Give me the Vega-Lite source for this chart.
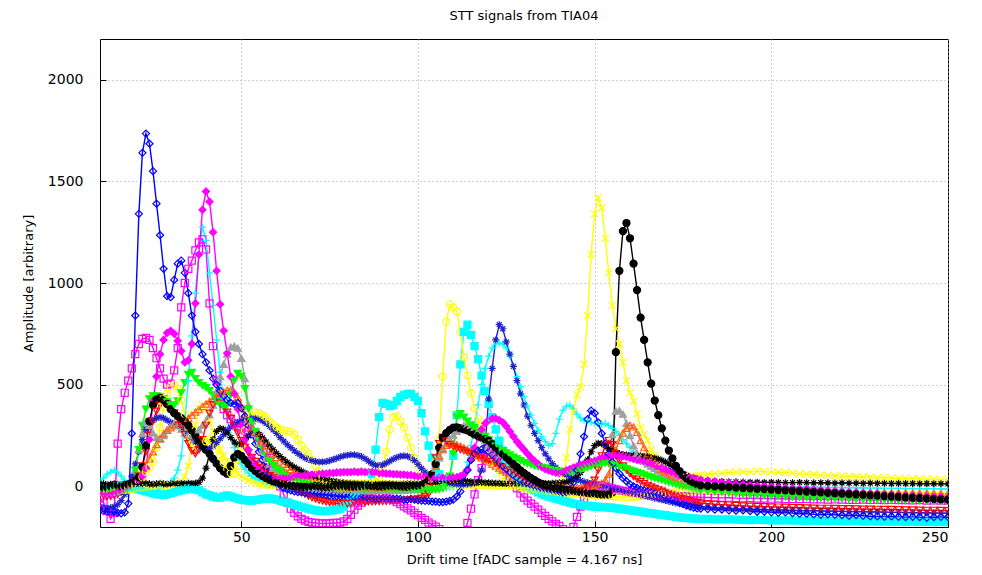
{
"$schema":"https://vega.github.io/schema/vega-lite/v6.json",
"width":848,"height":488,
"autosize":{"type":"none"},
"padding":{"left":100,"top":39,"right":34,"bottom":48},
"background":"white",
"title":{"text":"STT signals from TIA04","font":"DejaVu Sans","fontSize":13,"fontWeight":"normal","color":"#000","offset":16},
"data":{"values":[
{"x":10,"a":-118,"b":-30,"c":-60,"d":20,"e":0,"f":-20,"g":0,"h":-30,"i":-30,"j":-40,"k":-20,"l":-25,"m":-100,"n":10},
{"x":11,"a":-122,"b":-35,"c":-80,"d":40,"e":-5,"f":-25,"g":-5,"h":-28,"i":-32,"j":-45,"k":-22,"l":-28,"m":-105,"n":12},
{"x":12,"a":-125,"b":-40,"c":-120,"d":60,"e":-10,"f":-30,"g":-5,"h":-30,"i":-35,"j":-50,"k":-25,"l":-30,"m":-108,"n":8},
{"x":13,"a":-128,"b":-40,"c":-160,"d":70,"e":-10,"f":-30,"g":0,"h":-32,"i":-35,"j":-50,"k":-25,"l":-32,"m":-105,"n":10},
{"x":14,"a":-126,"b":-35,"c":-130,"d":80,"e":-5,"f":-25,"g":5,"h":-30,"i":-30,"j":-45,"k":-22,"l":-30,"m":-100,"n":12},
{"x":15,"a":-130,"b":-30,"c":210,"d":70,"e":0,"f":-20,"g":5,"h":-28,"i":-28,"j":-40,"k":-20,"l":-28,"m":-90,"n":10},
{"x":16,"a":-133,"b":-20,"c":380,"d":50,"e":5,"f":-15,"g":0,"h":-25,"i":-25,"j":-30,"k":-15,"l":-25,"m":-70,"n":8},
{"x":17,"a":-128,"b":-10,"c":460,"d":30,"e":5,"f":-10,"g":5,"h":-20,"i":-20,"j":-20,"k":-10,"l":-22,"m":-40,"n":10},
{"x":18,"a":-85,"b":0,"c":520,"d":10,"e":0,"f":-5,"g":10,"h":-10,"i":-15,"j":-10,"k":0,"l":-20,"m":0,"n":12},
{"x":19,"a":260,"b":10,"c":580,"d":0,"e":-5,"f":0,"g":15,"h":0,"i":0,"j":0,"k":10,"l":-18,"m":50,"n":10},
{"x":20,"a":840,"b":20,"c":650,"d":-10,"e":-10,"f":10,"g":25,"h":80,"i":80,"j":20,"k":25,"l":-15,"m":110,"n":8},
{"x":21,"a":1340,"b":30,"c":700,"d":-20,"e":-15,"f":25,"g":45,"h":180,"i":180,"j":50,"k":45,"l":-12,"m":170,"n":10},
{"x":22,"a":1640,"b":50,"c":725,"d":-25,"e":-20,"f":45,"g":95,"h":260,"i":300,"j":100,"k":70,"l":-10,"m":230,"n":12},
{"x":23,"a":1735,"b":90,"c":730,"d":-30,"e":-25,"f":70,"g":200,"h":320,"i":380,"j":170,"k":100,"l":-8,"m":280,"n":15},
{"x":24,"a":1685,"b":230,"c":720,"d":-30,"e":-30,"f":95,"g":320,"h":300,"i":430,"j":250,"k":135,"l":-5,"m":310,"n":12},
{"x":25,"a":1550,"b":420,"c":680,"d":-25,"e":-35,"f":120,"g":400,"h":262,"i":445,"j":320,"k":170,"l":-3,"m":325,"n":10},
{"x":26,"a":1390,"b":540,"c":630,"d":-20,"e":-40,"f":190,"g":428,"h":240,"i":445,"j":370,"k":205,"l":0,"m":335,"n":12},
{"x":27,"a":1235,"b":650,"c":580,"d":-10,"e":-40,"f":290,"g":435,"h":232,"i":440,"j":400,"k":235,"l":2,"m":340,"n":15},
{"x":28,"a":1070,"b":720,"c":530,"d":0,"e":-42,"f":390,"g":425,"h":250,"i":430,"j":415,"k":258,"l":4,"m":335,"n":12},
{"x":29,"a":935,"b":755,"c":500,"d":10,"e":-40,"f":455,"g":405,"h":278,"i":415,"j":405,"k":275,"l":5,"m":325,"n":10},
{"x":30,"a":930,"b":765,"c":505,"d":20,"e":-35,"f":490,"g":380,"h":298,"i":400,"j":385,"k":288,"l":6,"m":315,"n":12},
{"x":31,"a":1015,"b":750,"c":570,"d":40,"e":-30,"f":500,"g":360,"h":310,"i":400,"j":360,"k":298,"l":8,"m":310,"n":15},
{"x":32,"a":1095,"b":715,"c":680,"d":80,"e":-25,"f":480,"g":345,"h":300,"i":420,"j":335,"k":305,"l":12,"m":305,"n":12},
{"x":33,"a":1110,"b":665,"c":880,"d":150,"e":-20,"f":425,"g":335,"h":282,"i":460,"j":300,"k":312,"l":25,"m":295,"n":14},
{"x":34,"a":1050,"b":610,"c":1000,"d":320,"e":-15,"f":355,"g":320,"h":262,"i":510,"j":255,"k":322,"l":50,"m":280,"n":12},
{"x":35,"a":950,"b":620,"c":1070,"d":520,"e":-10,"f":290,"g":300,"h":252,"i":550,"j":210,"k":335,"l":100,"m":262,"n":15},
{"x":36,"a":840,"b":700,"c":1110,"d":740,"e":-10,"f":240,"g":275,"h":250,"i":560,"j":175,"k":350,"l":200,"m":240,"n":14},
{"x":37,"a":760,"b":900,"c":1160,"d":950,"e":-15,"f":205,"g":250,"h":258,"i":530,"j":160,"k":365,"l":300,"m":218,"n":15},
{"x":38,"a":700,"b":1140,"c":1200,"d":1150,"e":-20,"f":190,"g":225,"h":278,"i":510,"j":180,"k":378,"l":380,"m":198,"n":20},
{"x":39,"a":650,"b":1360,"c":1215,"d":1275,"e":-30,"f":200,"g":200,"h":300,"i":495,"j":230,"k":392,"l":400,"m":185,"n":40},
{"x":40,"a":610,"b":1450,"c":1165,"d":1210,"e":-40,"f":220,"g":180,"h":322,"i":485,"j":300,"k":405,"l":380,"m":180,"n":90},
{"x":41,"a":570,"b":1400,"c":900,"d":1050,"e":-45,"f":232,"g":160,"h":352,"i":470,"j":360,"k":418,"l":330,"m":185,"n":160},
{"x":42,"a":530,"b":1250,"c":690,"d":890,"e":-50,"f":222,"g":135,"h":400,"i":450,"j":400,"k":430,"l":270,"m":198,"n":230},
{"x":43,"a":500,"b":1060,"c":520,"d":720,"e":-55,"f":195,"g":112,"h":470,"i":420,"j":420,"k":442,"l":220,"m":215,"n":270},
{"x":44,"a":470,"b":895,"c":430,"d":560,"e":-55,"f":155,"g":90,"h":540,"i":400,"j":410,"k":455,"l":180,"m":235,"n":285},
{"x":45,"a":445,"b":765,"c":380,"d":430,"e":-50,"f":115,"g":72,"h":600,"i":390,"j":390,"k":465,"l":150,"m":255,"n":280},
{"x":46,"a":425,"b":655,"c":350,"d":330,"e":-45,"f":85,"g":62,"h":650,"i":400,"j":365,"k":472,"l":125,"m":275,"n":262},
{"x":47,"a":410,"b":540,"c":330,"d":250,"e":-50,"f":65,"g":100,"h":685,"i":450,"j":335,"k":475,"l":100,"m":292,"n":240},
{"x":48,"a":405,"b":455,"c":310,"d":190,"e":-55,"f":62,"g":142,"h":690,"i":520,"j":300,"k":462,"l":80,"m":305,"n":218},
{"x":49,"a":410,"b":380,"c":295,"d":145,"e":-60,"f":100,"g":160,"h":680,"i":555,"j":262,"k":435,"l":62,"m":315,"n":205},
{"x":50,"a":385,"b":300,"c":285,"d":110,"e":-65,"f":195,"g":150,"h":630,"i":540,"j":225,"k":395,"l":48,"m":322,"n":210},
{"x":51,"a":345,"b":230,"c":275,"d":85,"e":-68,"f":275,"g":130,"h":530,"i":480,"j":192,"k":355,"l":38,"m":328,"n":228},
{"x":52,"a":300,"b":180,"c":270,"d":65,"e":-70,"f":325,"g":110,"h":400,"i":380,"j":165,"k":320,"l":30,"m":332,"n":248},
{"x":53,"a":255,"b":140,"c":265,"d":50,"e":-70,"f":350,"g":90,"h":322,"i":320,"j":142,"k":290,"l":22,"m":335,"n":262},
{"x":54,"a":210,"b":110,"c":260,"d":40,"e":-68,"f":362,"g":75,"h":262,"i":270,"j":122,"k":265,"l":16,"m":335,"n":265},
{"x":55,"a":170,"b":85,"c":245,"d":30,"e":-65,"f":360,"g":62,"h":212,"i":225,"j":105,"k":245,"l":12,"m":330,"n":255},
{"x":56,"a":130,"b":65,"c":215,"d":22,"e":-62,"f":350,"g":50,"h":172,"i":185,"j":90,"k":222,"l":8,"m":322,"n":238},
{"x":57,"a":95,"b":50,"c":180,"d":15,"e":-60,"f":338,"g":40,"h":138,"i":150,"j":76,"k":200,"l":6,"m":310,"n":218},
{"x":58,"a":65,"b":40,"c":140,"d":10,"e":-60,"f":320,"g":32,"h":110,"i":125,"j":63,"k":180,"l":5,"m":295,"n":198},
{"x":59,"a":40,"b":35,"c":95,"d":5,"e":-62,"f":302,"g":25,"h":88,"i":105,"j":52,"k":160,"l":4,"m":278,"n":180},
{"x":60,"a":20,"b":35,"c":45,"d":0,"e":-65,"f":290,"g":20,"h":70,"i":88,"j":42,"k":142,"l":5,"m":260,"n":162},
{"x":61,"a":5,"b":38,"c":0,"d":-2,"e":-70,"f":280,"g":15,"h":56,"i":74,"j":32,"k":125,"l":6,"m":240,"n":146},
{"x":62,"a":-8,"b":40,"c":-40,"d":-5,"e":-75,"f":274,"g":10,"h":45,"i":62,"j":22,"k":110,"l":7,"m":222,"n":132},
{"x":63,"a":-15,"b":42,"c":-80,"d":-6,"e":-80,"f":270,"g":8,"h":35,"i":52,"j":12,"k":95,"l":8,"m":205,"n":118},
{"x":64,"a":-20,"b":45,"c":-110,"d":-8,"e":-85,"f":268,"g":5,"h":27,"i":44,"j":2,"k":82,"l":8,"m":190,"n":105},
{"x":65,"a":-25,"b":48,"c":-130,"d":-8,"e":-90,"f":255,"g":2,"h":20,"i":37,"j":-8,"k":70,"l":9,"m":175,"n":94},
{"x":66,"a":-28,"b":50,"c":-148,"d":-10,"e":-95,"f":230,"g":0,"h":14,"i":30,"j":-18,"k":60,"l":10,"m":162,"n":84},
{"x":67,"a":-30,"b":52,"c":-160,"d":-10,"e":-100,"f":200,"g":-2,"h":8,"i":24,"j":-28,"k":50,"l":10,"m":150,"n":75},
{"x":68,"a":-32,"b":55,"c":-168,"d":-12,"e":-105,"f":178,"g":-3,"h":3,"i":18,"j":-38,"k":42,"l":11,"m":140,"n":66},
{"x":69,"a":-35,"b":55,"c":-175,"d":-12,"e":-110,"f":158,"g":-2,"h":-2,"i":13,"j":-48,"k":35,"l":12,"m":132,"n":58},
{"x":70,"a":-35,"b":58,"c":-178,"d":-12,"e":-115,"f":130,"g":0,"h":-6,"i":8,"j":-56,"k":28,"l":12,"m":126,"n":52},
{"x":71,"a":-38,"b":60,"c":-180,"d":-14,"e":-118,"f":100,"g":2,"h":-10,"i":4,"j":-62,"k":22,"l":12,"m":122,"n":46},
{"x":72,"a":-40,"b":60,"c":-182,"d":-14,"e":-120,"f":72,"g":0,"h":-12,"i":0,"j":-68,"k":17,"l":13,"m":120,"n":40},
{"x":73,"a":-40,"b":62,"c":-182,"d":-15,"e":-122,"f":45,"g":-2,"h":-14,"i":-3,"j":-72,"k":12,"l":13,"m":120,"n":36},
{"x":74,"a":-42,"b":62,"c":-182,"d":-15,"e":-122,"f":25,"g":-3,"h":-15,"i":-6,"j":-76,"k":8,"l":14,"m":122,"n":32},
{"x":75,"a":-45,"b":65,"c":-182,"d":-15,"e":-120,"f":12,"g":-2,"h":-16,"i":-8,"j":-80,"k":5,"l":14,"m":126,"n":28},
{"x":76,"a":-45,"b":65,"c":-180,"d":-16,"e":-118,"f":5,"g":0,"h":-17,"i":-10,"j":-82,"k":2,"l":15,"m":132,"n":25},
{"x":77,"a":-48,"b":68,"c":-180,"d":-16,"e":-115,"f":0,"g":2,"h":-18,"i":-11,"j":-84,"k":0,"l":15,"m":138,"n":22},
{"x":78,"a":-50,"b":68,"c":-178,"d":-15,"e":-110,"f":-5,"g":3,"h":-18,"i":-12,"j":-85,"k":-2,"l":15,"m":145,"n":20},
{"x":79,"a":-50,"b":70,"c":-172,"d":-16,"e":-100,"f":-8,"g":2,"h":-19,"i":-13,"j":-86,"k":-3,"l":16,"m":150,"n":18},
{"x":80,"a":-52,"b":70,"c":-160,"d":-15,"e":-85,"f":-10,"g":0,"h":-20,"i":-14,"j":-85,"k":-4,"l":16,"m":153,"n":16},
{"x":81,"a":-50,"b":70,"c":-140,"d":-15,"e":-70,"f":-10,"g":-2,"h":-20,"i":-15,"j":-84,"k":-5,"l":16,"m":155,"n":15},
{"x":82,"a":-52,"b":72,"c":-115,"d":-16,"e":-55,"f":-10,"g":-3,"h":-20,"i":-15,"j":-82,"k":-5,"l":16,"m":155,"n":14},
{"x":83,"a":-55,"b":70,"c":-95,"d":-16,"e":-40,"f":-8,"g":-2,"h":-21,"i":-16,"j":-80,"k":-6,"l":16,"m":152,"n":13},
{"x":84,"a":-55,"b":72,"c":-80,"d":-15,"e":-25,"f":-5,"g":0,"h":-21,"i":-16,"j":-78,"k":-6,"l":16,"m":146,"n":12},
{"x":85,"a":-55,"b":70,"c":-68,"d":-14,"e":-10,"f":-5,"g":2,"h":-22,"i":-17,"j":-78,"k":-6,"l":15,"m":136,"n":12},
{"x":86,"a":-58,"b":68,"c":-60,"d":-14,"e":0,"f":0,"g":3,"h":-22,"i":-17,"j":-76,"k":-6,"l":15,"m":124,"n":11},
{"x":87,"a":-58,"b":70,"c":-55,"d":-15,"e":60,"f":5,"g":2,"h":-22,"i":-18,"j":-76,"k":-6,"l":15,"m":112,"n":10},
{"x":88,"a":-60,"b":68,"c":-52,"d":-15,"e":180,"f":20,"g":0,"h":-21,"i":-18,"j":-75,"k":-5,"l":14,"m":104,"n":10},
{"x":89,"a":-60,"b":65,"c":-50,"d":-14,"e":340,"f":45,"g":-2,"h":-21,"i":-18,"j":-75,"k":-5,"l":14,"m":102,"n":11},
{"x":90,"a":-58,"b":65,"c":-52,"d":-14,"e":410,"f":90,"g":-2,"h":-20,"i":-19,"j":-74,"k":-5,"l":14,"m":106,"n":12},
{"x":91,"a":-60,"b":62,"c":-55,"d":-15,"e":405,"f":170,"g":0,"h":-20,"i":-19,"j":-74,"k":-4,"l":13,"m":114,"n":13},
{"x":92,"a":-62,"b":62,"c":-60,"d":-15,"e":395,"f":280,"g":2,"h":-20,"i":-19,"j":-72,"k":-4,"l":13,"m":124,"n":12},
{"x":93,"a":-62,"b":60,"c":-68,"d":-14,"e":400,"f":340,"g":3,"h":-19,"i":-20,"j":-72,"k":-4,"l":12,"m":134,"n":11},
{"x":94,"a":-60,"b":60,"c":-78,"d":-14,"e":420,"f":345,"g":2,"h":-19,"i":-20,"j":-72,"k":-3,"l":12,"m":142,"n":10},
{"x":95,"a":-62,"b":58,"c":-88,"d":-13,"e":440,"f":320,"g":0,"h":-18,"i":-20,"j":-70,"k":-3,"l":12,"m":148,"n":10},
{"x":96,"a":-65,"b":58,"c":-98,"d":-13,"e":450,"f":290,"g":-2,"h":-18,"i":-20,"j":-70,"k":-2,"l":11,"m":150,"n":11},
{"x":97,"a":-65,"b":55,"c":-108,"d":-12,"e":455,"f":240,"g":-2,"h":-17,"i":-20,"j":-68,"k":-2,"l":11,"m":148,"n":12},
{"x":98,"a":-62,"b":55,"c":-118,"d":-12,"e":455,"f":190,"g":0,"h":-16,"i":-20,"j":-66,"k":-1,"l":10,"m":140,"n":13},
{"x":99,"a":-65,"b":52,"c":-130,"d":-12,"e":440,"f":140,"g":2,"h":-15,"i":-20,"j":-64,"k":0,"l":10,"m":126,"n":12},
{"x":100,"a":-68,"b":50,"c":-142,"d":-12,"e":420,"f":100,"g":3,"h":-13,"i":-20,"j":-62,"k":0,"l":10,"m":108,"n":11},
{"x":101,"a":-70,"b":50,"c":-155,"d":-11,"e":360,"f":72,"g":5,"h":-10,"i":-20,"j":-58,"k":0,"l":9,"m":88,"n":12},
{"x":102,"a":-72,"b":48,"c":-165,"d":-11,"e":270,"f":52,"g":15,"h":0,"i":-19,"j":-50,"k":10,"l":9,"m":70,"n":14},
{"x":103,"a":-72,"b":48,"c":-178,"d":-10,"e":200,"f":42,"g":30,"h":15,"i":-19,"j":-38,"k":25,"l":9,"m":55,"n":16},
{"x":104,"a":-75,"b":45,"c":-188,"d":-10,"e":140,"f":60,"g":60,"h":35,"i":-18,"j":20,"k":55,"l":8,"m":44,"n":18},
{"x":105,"a":-75,"b":45,"c":-198,"d":-10,"e":95,"f":120,"g":110,"h":90,"i":-17,"j":140,"k":100,"l":8,"m":36,"n":20},
{"x":106,"a":-78,"b":42,"c":-210,"d":-10,"e":60,"f":230,"g":190,"h":140,"i":-15,"j":210,"k":150,"l":8,"m":30,"n":22},
{"x":107,"a":-78,"b":42,"c":-225,"d":-9,"e":35,"f":540,"g":240,"h":180,"i":-10,"j":240,"k":185,"l":7,"m":25,"n":24},
{"x":108,"a":-75,"b":40,"c":-240,"d":-8,"e":20,"f":810,"g":262,"h":210,"i":0,"j":222,"k":202,"l":7,"m":20,"n":25},
{"x":109,"a":-72,"b":40,"c":-250,"d":-6,"e":40,"f":895,"g":278,"h":232,"i":50,"j":205,"k":210,"l":7,"m":16,"n":26},
{"x":110,"a":-65,"b":42,"c":-255,"d":-4,"e":150,"f":880,"g":289,"h":252,"i":160,"j":195,"k":210,"l":6,"m":12,"n":27},
{"x":111,"a":-50,"b":45,"c":-255,"d":0,"e":350,"f":860,"g":290,"h":270,"i":340,"j":188,"k":205,"l":6,"m":10,"n":27},
{"x":112,"a":-25,"b":50,"c":-250,"d":20,"e":600,"f":760,"g":285,"h":288,"i":358,"j":180,"k":198,"l":6,"m":8,"n":26},
{"x":113,"a":20,"b":60,"c":-230,"d":60,"e":760,"f":635,"g":280,"h":300,"i":340,"j":175,"k":190,"l":5,"m":8,"n":25},
{"x":114,"a":80,"b":80,"c":-180,"d":120,"e":795,"f":545,"g":275,"h":305,"i":320,"j":168,"k":180,"l":5,"m":10,"n":24},
{"x":115,"a":130,"b":130,"c":-110,"d":200,"e":745,"f":458,"g":265,"h":300,"i":302,"j":162,"k":170,"l":5,"m":12,"n":22},
{"x":116,"a":160,"b":190,"c":-40,"d":300,"e":690,"f":384,"g":255,"h":290,"i":290,"j":156,"k":160,"l":4,"m":15,"n":21},
{"x":117,"a":175,"b":240,"c":30,"d":400,"e":625,"f":332,"g":248,"h":272,"i":278,"j":150,"k":150,"l":4,"m":22,"n":20},
{"x":118,"a":180,"b":280,"c":90,"d":500,"e":545,"f":280,"g":240,"h":250,"i":262,"j":144,"k":140,"l":4,"m":80,"n":19},
{"x":119,"a":178,"b":310,"c":140,"d":580,"e":470,"f":232,"g":232,"h":225,"i":245,"j":137,"k":130,"l":3,"m":200,"n":18},
{"x":120,"a":170,"b":325,"c":170,"d":640,"e":405,"f":185,"g":225,"h":200,"i":228,"j":130,"k":120,"l":3,"m":430,"n":17},
{"x":121,"a":155,"b":333,"c":180,"d":680,"e":340,"f":145,"g":208,"h":180,"i":212,"j":122,"k":110,"l":3,"m":580,"n":16},
{"x":122,"a":140,"b":333,"c":170,"d":700,"e":280,"f":110,"g":191,"h":160,"i":198,"j":114,"k":100,"l":2,"m":720,"n":15},
{"x":123,"a":120,"b":325,"c":150,"d":705,"e":225,"f":80,"g":175,"h":140,"i":186,"j":106,"k":90,"l":2,"m":795,"n":15},
{"x":124,"a":100,"b":315,"c":120,"d":700,"e":175,"f":55,"g":160,"h":122,"i":175,"j":98,"k":80,"l":2,"m":775,"n":14},
{"x":125,"a":85,"b":295,"c":85,"d":680,"e":135,"f":35,"g":143,"h":108,"i":164,"j":90,"k":70,"l":2,"m":710,"n":14},
{"x":126,"a":70,"b":270,"c":50,"d":640,"e":100,"f":20,"g":127,"h":95,"i":154,"j":80,"k":62,"l":1,"m":650,"n":13},
{"x":127,"a":55,"b":245,"c":20,"d":590,"e":70,"f":8,"g":110,"h":82,"i":144,"j":70,"k":54,"l":1,"m":590,"n":13},
{"x":128,"a":42,"b":220,"c":-10,"d":540,"e":45,"f":0,"g":94,"h":70,"i":135,"j":60,"k":46,"l":1,"m":520,"n":12},
{"x":129,"a":30,"b":200,"c":-35,"d":490,"e":25,"f":-5,"g":78,"h":58,"i":126,"j":50,"k":38,"l":0,"m":455,"n":12},
{"x":130,"a":20,"b":180,"c":-55,"d":440,"e":10,"f":-10,"g":65,"h":48,"i":118,"j":40,"k":30,"l":0,"m":400,"n":12},
{"x":131,"a":12,"b":160,"c":-70,"d":395,"e":0,"f":-12,"g":52,"h":38,"i":112,"j":32,"k":24,"l":0,"m":345,"n":12},
{"x":132,"a":5,"b":140,"c":-85,"d":350,"e":-10,"f":-15,"g":40,"h":30,"i":106,"j":24,"k":18,"l":0,"m":300,"n":12},
{"x":133,"a":0,"b":125,"c":-100,"d":310,"e":-20,"f":-15,"g":30,"h":22,"i":100,"j":16,"k":12,"l":-1,"m":260,"n":12},
{"x":134,"a":-5,"b":110,"c":-115,"d":275,"e":-30,"f":-18,"g":20,"h":15,"i":96,"j":8,"k":8,"l":-1,"m":225,"n":13},
{"x":135,"a":-10,"b":95,"c":-130,"d":245,"e":-38,"f":-20,"g":12,"h":8,"i":93,"j":0,"k":4,"l":-1,"m":190,"n":13},
{"x":136,"a":-12,"b":85,"c":-145,"d":220,"e":-45,"f":-20,"g":5,"h":2,"i":90,"j":-6,"k":0,"l":-1,"m":160,"n":14},
{"x":137,"a":-15,"b":78,"c":-160,"d":200,"e":-50,"f":-22,"g":0,"h":-3,"i":86,"j":-12,"k":-2,"l":-2,"m":135,"n":14},
{"x":138,"a":-18,"b":72,"c":-172,"d":210,"e":-55,"f":-25,"g":-5,"h":-8,"i":82,"j":-16,"k":-3,"l":-2,"m":112,"n":15},
{"x":139,"a":-20,"b":68,"c":-185,"d":260,"e":-60,"f":-25,"g":-10,"h":-12,"i":78,"j":-20,"k":-4,"l":-2,"m":93,"n":16},
{"x":140,"a":-25,"b":65,"c":-195,"d":330,"e":-65,"f":-28,"g":-12,"h":-15,"i":74,"j":-22,"k":-5,"l":5,"m":78,"n":17},
{"x":141,"a":-30,"b":70,"c":-210,"d":375,"e":-70,"f":-30,"g":-15,"h":-17,"i":72,"j":-24,"k":-5,"l":40,"m":66,"n":18},
{"x":142,"a":-28,"b":78,"c":-225,"d":395,"e":-75,"f":-30,"g":-18,"h":-18,"i":70,"j":-26,"k":-6,"l":140,"m":56,"n":20},
{"x":143,"a":-15,"b":85,"c":-230,"d":398,"e":-80,"f":-32,"g":-20,"h":-19,"i":70,"j":-28,"k":-6,"l":280,"m":48,"n":25},
{"x":144,"a":20,"b":92,"c":-200,"d":380,"e":-85,"f":-35,"g":-22,"h":-20,"i":72,"j":-28,"k":-6,"l":370,"m":40,"n":32},
{"x":145,"a":80,"b":98,"c":-150,"d":355,"e":-88,"f":-35,"g":-25,"h":-20,"i":75,"j":-28,"k":-5,"l":450,"m":34,"n":45},
{"x":146,"a":160,"b":105,"c":-100,"d":335,"e":-90,"f":-38,"g":-28,"h":-21,"i":80,"j":-26,"k":-5,"l":490,"m":28,"n":68},
{"x":147,"a":245,"b":110,"c":-60,"d":325,"e":-92,"f":-40,"g":-30,"h":-21,"i":86,"j":-20,"k":-4,"l":600,"m":22,"n":95},
{"x":148,"a":330,"b":115,"c":-30,"d":320,"e":-95,"f":-40,"g":-32,"h":-22,"i":92,"j":-10,"k":-2,"l":840,"m":18,"n":130},
{"x":149,"a":372,"b":120,"c":-10,"d":315,"e":-98,"f":-42,"g":-35,"h":-22,"i":98,"j":5,"k":0,"l":1140,"m":14,"n":170},
{"x":150,"a":360,"b":125,"c":0,"d":310,"e":-100,"f":-42,"g":-35,"h":-22,"i":104,"j":30,"k":2,"l":1340,"m":10,"n":200},
{"x":151,"a":315,"b":130,"c":5,"d":305,"e":-100,"f":-45,"g":-38,"h":-22,"i":108,"j":80,"k":5,"l":1420,"m":6,"n":212},
{"x":152,"a":260,"b":138,"c":5,"d":305,"e":-102,"f":-45,"g":-40,"h":-22,"i":112,"j":150,"k":15,"l":1370,"m":2,"n":210},
{"x":153,"a":210,"b":142,"c":0,"d":310,"e":-102,"f":-45,"g":-40,"h":-21,"i":113,"j":200,"k":30,"l":1220,"m":-2,"n":200},
{"x":154,"a":160,"b":148,"c":-5,"d":300,"e":-105,"f":-48,"g":-40,"h":-20,"i":112,"j":225,"k":60,"l":1050,"m":-6,"n":185},
{"x":155,"a":120,"b":152,"c":-10,"d":285,"e":-105,"f":-48,"g":-30,"h":255,"i":108,"j":205,"k":120,"l":890,"m":-10,"n":172},
{"x":156,"a":90,"b":152,"c":-15,"d":270,"e":-108,"f":-50,"g":660,"h":370,"i":104,"j":160,"k":180,"l":775,"m":-14,"n":165},
{"x":157,"a":62,"b":150,"c":-20,"d":250,"e":-110,"f":-50,"g":1060,"h":372,"i":98,"j":125,"k":225,"l":700,"m":-18,"n":160},
{"x":158,"a":40,"b":148,"c":-22,"d":230,"e":-112,"f":-50,"g":1255,"h":355,"i":92,"j":100,"k":262,"l":610,"m":-22,"n":156},
{"x":159,"a":25,"b":145,"c":-25,"d":210,"e":-115,"f":-52,"g":1295,"h":310,"i":86,"j":80,"k":285,"l":520,"m":-26,"n":154},
{"x":160,"a":10,"b":140,"c":-28,"d":190,"e":-118,"f":-52,"g":1220,"h":250,"i":80,"j":62,"k":300,"l":460,"m":-30,"n":152},
{"x":161,"a":0,"b":135,"c":-30,"d":170,"e":-120,"f":-50,"g":1095,"h":200,"i":74,"j":48,"k":292,"l":420,"m":-34,"n":152},
{"x":162,"a":-8,"b":130,"c":-32,"d":150,"e":-122,"f":-50,"g":965,"h":162,"i":68,"j":35,"k":265,"l":357,"m":-38,"n":152},
{"x":163,"a":-15,"b":127,"c":-35,"d":135,"e":-125,"f":-48,"g":830,"h":142,"i":62,"j":24,"k":225,"l":290,"m":-42,"n":150},
{"x":164,"a":-20,"b":122,"c":-35,"d":120,"e":-128,"f":-45,"g":720,"h":125,"i":56,"j":14,"k":190,"l":255,"m":-46,"n":148},
{"x":165,"a":-25,"b":118,"c":-38,"d":105,"e":-130,"f":-45,"g":610,"h":110,"i":50,"j":5,"k":160,"l":225,"m":-50,"n":145},
{"x":166,"a":-30,"b":112,"c":-40,"d":92,"e":-132,"f":-42,"g":505,"h":98,"i":45,"j":-3,"k":135,"l":180,"m":-54,"n":142},
{"x":167,"a":-35,"b":105,"c":-40,"d":80,"e":-135,"f":-40,"g":422,"h":88,"i":40,"j":-10,"k":115,"l":150,"m":-58,"n":138},
{"x":168,"a":-40,"b":98,"c":-42,"d":70,"e":-138,"f":-40,"g":350,"h":78,"i":35,"j":-17,"k":98,"l":120,"m":-62,"n":134},
{"x":169,"a":-45,"b":90,"c":-42,"d":60,"e":-140,"f":-38,"g":285,"h":68,"i":30,"j":-24,"k":84,"l":93,"m":-66,"n":128},
{"x":170,"a":-50,"b":82,"c":-45,"d":52,"e":-142,"f":-35,"g":225,"h":60,"i":25,"j":-30,"k":72,"l":75,"m":-70,"n":120},
{"x":171,"a":-58,"b":75,"c":-45,"d":45,"e":-145,"f":-35,"g":176,"h":52,"i":20,"j":-36,"k":62,"l":58,"m":-74,"n":110},
{"x":172,"a":-65,"b":68,"c":-48,"d":38,"e":-148,"f":-32,"g":137,"h":44,"i":15,"j":-42,"k":52,"l":44,"m":-78,"n":98},
{"x":173,"a":-72,"b":62,"c":-48,"d":32,"e":-150,"f":-30,"g":100,"h":37,"i":10,"j":-48,"k":44,"l":40,"m":-82,"n":86},
{"x":174,"a":-80,"b":55,"c":-50,"d":28,"e":-152,"f":-30,"g":75,"h":30,"i":5,"j":-54,"k":36,"l":40,"m":-85,"n":74},
{"x":175,"a":-88,"b":50,"c":-50,"d":25,"e":-155,"f":-28,"g":55,"h":22,"i":0,"j":-60,"k":30,"l":42,"m":-88,"n":62},
{"x":176,"a":-95,"b":46,"c":-50,"d":22,"e":-155,"f":-25,"g":40,"h":15,"i":-5,"j":-65,"k":24,"l":45,"m":-90,"n":54},
{"x":177,"a":-100,"b":44,"c":-52,"d":20,"e":-158,"f":-25,"g":28,"h":10,"i":-10,"j":-70,"k":18,"l":48,"m":-92,"n":48},
{"x":178,"a":-105,"b":40,"c":-52,"d":18,"e":-158,"f":-22,"g":18,"h":5,"i":-15,"j":-74,"k":12,"l":50,"m":-95,"n":42},
{"x":179,"a":-108,"b":36,"c":-52,"d":15,"e":-160,"f":-20,"g":10,"h":0,"i":-18,"j":-78,"k":8,"l":52,"m":-98,"n":36},
{"x":180,"a":-110,"b":32,"c":-55,"d":12,"e":-160,"f":-20,"g":5,"h":-5,"i":-22,"j":-82,"k":4,"l":55,"m":-100,"n":32},
{"x":182,"a":-112,"b":28,"c":-55,"d":10,"e":-160,"f":-20,"g":2,"h":-8,"i":-25,"j":-85,"k":0,"l":58,"m":-102,"n":28},
{"x":184,"a":-115,"b":24,"c":-56,"d":8,"e":-162,"f":-22,"g":0,"h":-10,"i":-28,"j":-88,"k":-2,"l":62,"m":-104,"n":25},
{"x":186,"a":-115,"b":20,"c":-57,"d":6,"e":-163,"f":-22,"g":-2,"h":-12,"i":-31,"j":-90,"k":-4,"l":65,"m":-106,"n":24},
{"x":188,"a":-118,"b":16,"c":-56,"d":5,"e":-162,"f":-24,"g":-4,"h":-14,"i":-34,"j":-92,"k":-6,"l":68,"m":-108,"n":22},
{"x":190,"a":-120,"b":12,"c":-58,"d":4,"e":-164,"f":-24,"g":-6,"h":-16,"i":-37,"j":-94,"k":-8,"l":70,"m":-110,"n":22},
{"x":192,"a":-118,"b":10,"c":-59,"d":3,"e":-165,"f":-25,"g":-8,"h":-18,"i":-40,"j":-96,"k":-10,"l":72,"m":-111,"n":21},
{"x":194,"a":-122,"b":6,"c":-58,"d":2,"e":-166,"f":-26,"g":-10,"h":-20,"i":-42,"j":-98,"k":-12,"l":72,"m":-112,"n":20},
{"x":196,"a":-125,"b":4,"c":-60,"d":1,"e":-165,"f":-26,"g":-12,"h":-22,"i":-44,"j":-99,"k":-13,"l":75,"m":-113,"n":20},
{"x":198,"a":-125,"b":0,"c":-60,"d":0,"e":-166,"f":-27,"g":-14,"h":-24,"i":-46,"j":-100,"k":-14,"l":72,"m":-114,"n":19},
{"x":200,"a":-128,"b":-2,"c":-61,"d":-1,"e":-167,"f":-28,"g":-16,"h":-25,"i":-48,"j":-101,"k":-15,"l":70,"m":-115,"n":20},
{"x":202,"a":-130,"b":-5,"c":-60,"d":-2,"e":-168,"f":-28,"g":-18,"h":-26,"i":-50,"j":-102,"k":-16,"l":70,"m":-116,"n":19},
{"x":204,"a":-128,"b":-8,"c":-62,"d":-2,"e":-167,"f":-29,"g":-20,"h":-28,"i":-52,"j":-103,"k":-17,"l":68,"m":-117,"n":18},
{"x":206,"a":-132,"b":-10,"c":-62,"d":-3,"e":-168,"f":-30,"g":-22,"h":-29,"i":-54,"j":-104,"k":-18,"l":65,"m":-118,"n":18},
{"x":208,"a":-135,"b":-12,"c":-63,"d":-4,"e":-169,"f":-30,"g":-24,"h":-30,"i":-55,"j":-105,"k":-19,"l":62,"m":-119,"n":19},
{"x":210,"a":-135,"b":-12,"c":-62,"d":-4,"e":-170,"f":-31,"g":-26,"h":-31,"i":-56,"j":-106,"k":-20,"l":60,"m":-120,"n":18},
{"x":212,"a":-138,"b":-15,"c":-64,"d":-5,"e":-169,"f":-32,"g":-28,"h":-32,"i":-58,"j":-107,"k":-21,"l":58,"m":-120,"n":17},
{"x":214,"a":-140,"b":-18,"c":-64,"d":-5,"e":-170,"f":-32,"g":-30,"h":-33,"i":-59,"j":-108,"k":-22,"l":55,"m":-121,"n":18},
{"x":216,"a":-138,"b":-20,"c":-65,"d":-6,"e":-171,"f":-33,"g":-32,"h":-34,"i":-60,"j":-108,"k":-23,"l":55,"m":-122,"n":17},
{"x":218,"a":-140,"b":-22,"c":-64,"d":-6,"e":-170,"f":-34,"g":-34,"h":-35,"i":-61,"j":-109,"k":-24,"l":52,"m":-122,"n":16},
{"x":220,"a":-142,"b":-25,"c":-65,"d":-7,"e":-172,"f":-34,"g":-36,"h":-36,"i":-62,"j":-110,"k":-25,"l":50,"m":-123,"n":17},
{"x":222,"a":-145,"b":-28,"c":-66,"d":-7,"e":-172,"f":-35,"g":-38,"h":-37,"i":-63,"j":-110,"k":-26,"l":48,"m":-124,"n":16},
{"x":224,"a":-142,"b":-30,"c":-66,"d":-8,"e":-171,"f":-35,"g":-40,"h":-38,"i":-64,"j":-111,"k":-27,"l":48,"m":-124,"n":16},
{"x":226,"a":-145,"b":-32,"c":-65,"d":-8,"e":-173,"f":-36,"g":-42,"h":-39,"i":-65,"j":-112,"k":-28,"l":45,"m":-125,"n":15},
{"x":228,"a":-148,"b":-35,"c":-67,"d":-9,"e":-172,"f":-36,"g":-44,"h":-40,"i":-66,"j":-112,"k":-28,"l":45,"m":-126,"n":16},
{"x":230,"a":-148,"b":-35,"c":-66,"d":-9,"e":-173,"f":-37,"g":-46,"h":-41,"i":-67,"j":-113,"k":-29,"l":42,"m":-126,"n":15},
{"x":232,"a":-150,"b":-38,"c":-68,"d":-10,"e":-174,"f":-38,"g":-48,"h":-42,"i":-68,"j":-114,"k":-30,"l":42,"m":-127,"n":15},
{"x":234,"a":-148,"b":-40,"c":-67,"d":-10,"e":-173,"f":-38,"g":-50,"h":-43,"i":-69,"j":-114,"k":-31,"l":40,"m":-128,"n":14},
{"x":236,"a":-150,"b":-42,"c":-68,"d":-10,"e":-174,"f":-38,"g":-52,"h":-44,"i":-70,"j":-115,"k":-32,"l":40,"m":-128,"n":15},
{"x":238,"a":-152,"b":-45,"c":-68,"d":-11,"e":-175,"f":-39,"g":-54,"h":-45,"i":-71,"j":-116,"k":-32,"l":38,"m":-129,"n":14},
{"x":240,"a":-150,"b":-45,"c":-69,"d":-11,"e":-174,"f":-40,"g":-56,"h":-46,"i":-72,"j":-116,"k":-33,"l":38,"m":-130,"n":14},
{"x":242,"a":-152,"b":-48,"c":-68,"d":-12,"e":-175,"f":-40,"g":-58,"h":-47,"i":-72,"j":-117,"k":-34,"l":36,"m":-130,"n":13},
{"x":244,"a":-155,"b":-50,"c":-70,"d":-12,"e":-175,"f":-40,"g":-60,"h":-48,"i":-73,"j":-118,"k":-34,"l":35,"m":-131,"n":14},
{"x":246,"a":-152,"b":-52,"c":-69,"d":-12,"e":-176,"f":-41,"g":-62,"h":-49,"i":-74,"j":-118,"k":-35,"l":35,"m":-131,"n":13},
{"x":248,"a":-150,"b":-52,"c":-70,"d":-13,"e":-175,"f":-42,"g":-64,"h":-50,"i":-75,"j":-119,"k":-36,"l":34,"m":-132,"n":13},
{"x":250,"a":-152,"b":-55,"c":-70,"d":-13,"e":-176,"f":-42,"g":-65,"h":-50,"i":-75,"j":-120,"k":-36,"l":33,"m":-132,"n":12}
]},
"transform":[{"fold":["c","e","f","d","l","m","n","h","k","j","i","b","a","g"],"as":["s","y"]}],
"encoding":{
"x":{"field":"x","type":"quantitative","scale":{"domain":[10,250],"nice":false,"zero":false},"axis":{"values":[50,100,150,200,250],"format":"d","title":"Drift time [fADC sample = 4.167 ns]"}},
"y":{"field":"y","type":"quantitative","scale":{"domain":[-200,2200],"nice":false,"zero":false},"axis":{"values":[0,500,1000,1500,2000],"format":"d","title":"Amplitude [arbitrary]"}}
},
"layer":[
{"mark":{"type":"line","strokeWidth":1.4,"clip":true},
"encoding":{"color":{"field":"s","type":"nominal","legend":null,"scale":{"domain":["a","b","c","d","e","f","g","h","i","j","k","l","m","n"],"range":["#0000ff","#ff00ff","#ff00ff","#00ffff","#00ffff","#ffff00","#000000","#a0a0a0","#00ff00","#ff0000","#ff6010","#ffff00","#2222cc","#000000"]}}}},
{"mark":{"type":"point","clip":true,"size":50,"strokeWidth":1.2,"opacity":1,"filled":false},
"encoding":{
"shape":{"field":"s","type":"nominal","legend":null,"scale":{"domain":["a","b","c","d","e","f","g","h","i","j","k","l","m","n"],"range":["diamond","diamond","square","M-1,0H1M0,-1V1","square","circle","circle","triangle-up","triangle-down","triangle-down","triangle-up","M-1,-1L1,1M-1,1L1,-1","M-1,0H1M0,-1V1M-0.7,-0.7L0.7,0.7M-0.7,0.7L0.7,-0.7","M-1,0H1M0,-1V1M-0.7,-0.7L0.7,0.7M-0.7,0.7L0.7,-0.7"]}},
"stroke":{"field":"s","type":"nominal","legend":null,"scale":{"domain":["a","b","c","d","e","f","g","h","i","j","k","l","m","n"],"range":["#0000ff","#ff00ff","#ff00ff","#00ffff","#00ffff","#ffff00","#000000","#a0a0a0","#00ff00","#ff0000","#ff6010","#ffff00","#2222cc","#000000"]}},
"fill":{"field":"s","type":"nominal","legend":null,"scale":{"domain":["a","b","c","d","e","f","g","h","i","j","k","l","m","n"],"range":["transparent","#ff00ff","transparent","transparent","#00ffff","transparent","#000000","#a0a0a0","#00ff00","transparent","transparent","transparent","transparent","transparent"]}}
}}
],
"config":{
"view":{"stroke":"#000","strokeWidth":1},
"axis":{"labelFont":"DejaVu Sans","labelFontSize":14,"labelColor":"#000","titleFont":"DejaVu Sans","titleFontSize":13,"titleFontWeight":"normal","titleColor":"#000","domain":false,"grid":true,"gridColor":"#a0a0a0","gridDash":[1,3],"gridWidth":1,"tickColor":"#000","tickSize":-6,"tickWidth":1},
"axisX":{"labelPadding":9,"titlePadding":9},
"axisY":{"labelPadding":23,"titlePadding":12}
}
}
